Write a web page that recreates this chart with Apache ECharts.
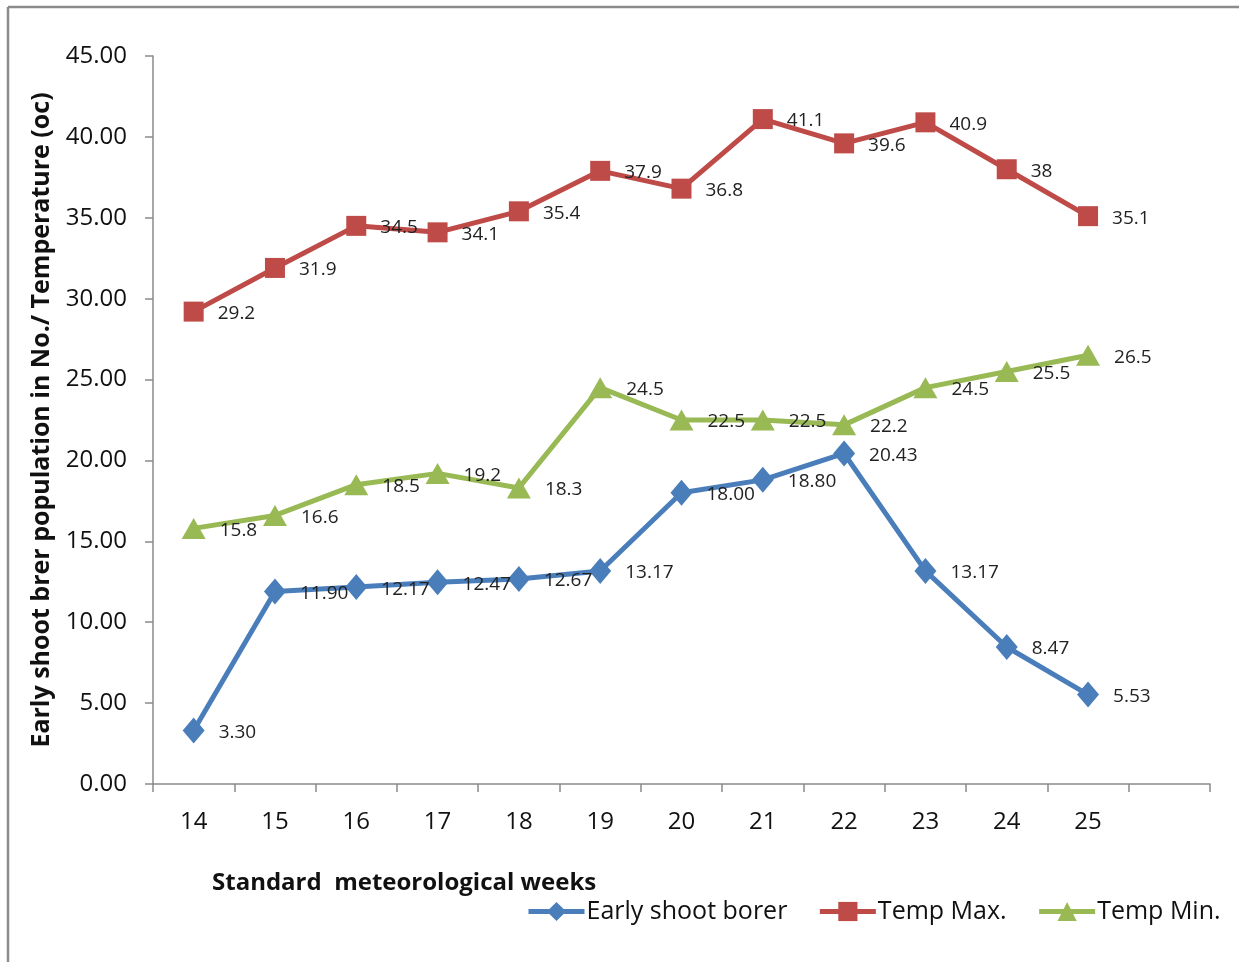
<!DOCTYPE html>
<html>
<head>
<meta charset="utf-8">
<script src="https://cdn.jsdelivr.net/npm/echarts@6/dist/echarts.min.js"></script>
<style>
  html, body { margin: 0; padding: 0; background: #fff; }
  #chart { width: 1239px; height: 962px; }
</style>
</head>
<body>
<div id="chart"></div>
<script>
// Standard meteorological weeks (last slot left empty on the axis)
const weeks = ['14', '15', '16', '17', '18', '19', '20', '21', '22', '23', '24', '25', ''];

// Early shoot borer population (No.)
const borer = [3.30, 11.90, 12.17, 12.47, 12.67, 13.17, 18.00, 18.80, 20.43, 13.17, 8.47, 5.53];
// Maximum temperature (oc)
const tempMax = [29.2, 31.9, 34.5, 34.1, 35.4, 37.9, 36.8, 41.1, 39.6, 40.9, 38, 35.1];
// Minimum temperature (oc)
const tempMin = [15.8, 16.6, 18.5, 19.2, 18.3, 24.5, 22.5, 22.5, 22.2, 24.5, 25.5, 26.5];

const FONT = '"Open Sans", Lato, sans-serif';
const AXIS_GREY = '#8a8a8a';
const FRAME_GREY = '#8c8c8c';

function seriesLabel(fmt) {
  return {
    show: true,
    position: 'right',
    distance: 14,
    offset: [0, 2],
    color: '#222',
    fontFamily: FONT,
    fontSize: 19,
    formatter: p => fmt(p.value)
  };
}

const chart = echarts.init(document.getElementById('chart'), null, { renderer: 'canvas' });

chart.setOption({
  backgroundColor: '#fff',
  animation: false,
  graphic: [
    // chart frame: top and left edges
    {
      type: 'line',
      shape: { x1: 8, y1: 7, x2: 1239, y2: 7 },
      style: { stroke: FRAME_GREY, lineWidth: 2.5 }
    },
    {
      type: 'line',
      shape: { x1: 8, y1: 7, x2: 8, y2: 962 },
      style: { stroke: FRAME_GREY, lineWidth: 2.5 }
    },
    {
      type: 'text',
      left: 212,
      top: 871,
      style: {
        text: 'Standard  meteorological weeks',
        font: 'bold 24px ' + FONT,
        fill: '#111'
      }
    }
  ],
  grid: { left: 153, right: 29, top: 56, bottom: 178 },
  legend: {
    left: 521,
    top: 894,
    itemWidth: 56,
    itemHeight: 24,
    itemGap: 30,
    lineStyle: { width: 5 },
    textStyle: { fontFamily: FONT, fontSize: 25, color: '#111', padding: [0, 0, 0, -3] },
    data: ['Early shoot borer', 'Temp Max.', 'Temp Min.']
  },
  xAxis: {
    type: 'category',
    data: weeks,
    boundaryGap: true,
    axisLine: { lineStyle: { color: AXIS_GREY, width: 1.5 } },
    axisTick: { show: true, length: 8, interval: 0, lineStyle: { color: AXIS_GREY, width: 1.5 } },
    axisLabel: { interval: 0, margin: 26, color: '#111', fontFamily: FONT, fontSize: 24 },
    splitLine: { show: false }
  },
  yAxis: {
    type: 'value',
    min: 0,
    max: 45,
    interval: 5,
    name: 'Early shoot brer population in No./ Temperature (oc)',
    nameLocation: 'middle',
    nameGap: 99,
    nameRotate: 90,
    nameTextStyle: { fontFamily: FONT, fontSize: 25, fontWeight: 'bold', color: '#111' },
    axisLine: { show: true, lineStyle: { color: AXIS_GREY, width: 1.5 } },
    axisTick: { show: true, length: 8, lineStyle: { color: AXIS_GREY, width: 1.5 } },
    axisLabel: {
      margin: 26,
      color: '#111',
      fontFamily: FONT,
      fontSize: 24,
      formatter: v => v.toFixed(2)
    },
    splitLine: { show: false }
  },
  series: [
    {
      name: 'Early shoot borer',
      type: 'line',
      data: borer,
      color: '#4a7ebb',
      lineStyle: { width: 5, color: '#4a7ebb' },
      symbol: 'diamond',
      symbolSize: [22, 26],
      itemStyle: { color: '#4a7ebb' },
      label: seriesLabel(v => v.toFixed(2)),
      z: 3
    },
    {
      name: 'Temp Max.',
      type: 'line',
      data: tempMax,
      color: '#be4b48',
      lineStyle: { width: 5, color: '#be4b48' },
      symbol: 'rect',
      symbolSize: 20,
      itemStyle: { color: '#be4b48' },
      label: seriesLabel(v => String(v)),
      z: 3
    },
    {
      name: 'Temp Min.',
      type: 'line',
      data: tempMin,
      color: '#98b954',
      lineStyle: { width: 5, color: '#98b954' },
      symbol: 'triangle',
      symbolSize: [24, 21],
      itemStyle: { color: '#98b954' },
      label: seriesLabel(v => String(v)),
      z: 3
    }
  ]
});
</script>
</body>
</html>
